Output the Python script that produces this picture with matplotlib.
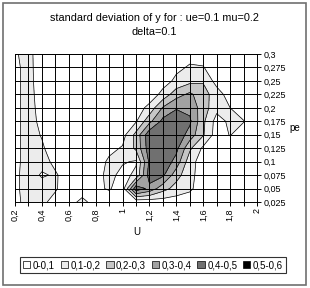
import numpy as np
import matplotlib
matplotlib.use("Agg")
import matplotlib.pyplot as plt
from matplotlib.patches import Patch, Rectangle

plt.rcParams['font.family'] = ['Liberation Sans', 'DejaVu Sans']

# grid of the surface: U along x, pe along y
u_vals = [0.2, 0.3, 0.4, 0.5, 0.6, 0.7, 0.8, 0.9, 1.0, 1.1,
          1.2, 1.3, 1.4, 1.5, 1.6, 1.7, 1.8, 1.9, 2.0]
pe_vals = [0.025, 0.05, 0.075, 0.1, 0.125, 0.15,
           0.175, 0.2, 0.225, 0.25, 0.275, 0.3]

# std of y, one row per pe value (bottom to top)
sd_025 = [0.07, 0.14, 0.12, 0.07, 0.07, 0.12, 0.07, 0.04, 0.03, 0.03, 0.04, 0.05, 0.05, 0.04, 0.03, 0.02, 0.02, 0.02, 0.02]
sd_050 = [0.08, 0.14, 0.14, 0.11, 0.05, 0.06, 0.08, 0.11, 0.05, 0.47, 0.37, 0.24, 0.16, 0.12, 0.04, 0.03, 0.02, 0.02, 0.02]
sd_075 = [0.08, 0.14, 0.09, 0.11, 0.06, 0.04, 0.06, 0.13, 0.07, 0.12, 0.45, 0.42, 0.24, 0.13, 0.05, 0.03, 0.02, 0.02, 0.02]
sd_100 = [0.08, 0.13, 0.13, 0.08, 0.04, 0.03, 0.04, 0.12, 0.11, 0.09, 0.42, 0.48, 0.36, 0.14, 0.05, 0.03, 0.03, 0.02, 0.02]
sd_125 = [0.08, 0.13, 0.11, 0.06, 0.03, 0.02, 0.03, 0.07, 0.11, 0.22, 0.46, 0.49, 0.43, 0.22, 0.08, 0.04, 0.05, 0.03, 0.02]
sd_150 = [0.08, 0.13, 0.095, 0.05, 0.03, 0.02, 0.02, 0.03, 0.06, 0.23, 0.47, 0.49, 0.47, 0.36, 0.21, 0.05, 0.105, 0.05, 0.02]
sd_175 = [0.08, 0.13, 0.08, 0.04, 0.02, 0.02, 0.02, 0.02, 0.03, 0.09, 0.27, 0.43, 0.47, 0.42, 0.22, 0.06, 0.12, 0.105, 0.02]
sd_200 = [0.08, 0.13, 0.07, 0.04, 0.02, 0.02, 0.02, 0.02, 0.02, 0.05, 0.13, 0.31, 0.39, 0.37, 0.25, 0.13, 0.10, 0.04, 0.02]
sd_225 = [0.08, 0.13, 0.06, 0.03, 0.02, 0.02, 0.02, 0.02, 0.02, 0.02, 0.04, 0.13, 0.26, 0.32, 0.24, 0.15, 0.05, 0.02, 0.02]
sd_250 = [0.08, 0.13, 0.05, 0.03, 0.02, 0.02, 0.02, 0.02, 0.02, 0.02, 0.02, 0.06, 0.12, 0.17, 0.19, 0.06, 0.02, 0.02, 0.02]
sd_275 = [0.08, 0.13, 0.045, 0.03, 0.02, 0.02, 0.02, 0.02, 0.02, 0.02, 0.02, 0.03, 0.08, 0.11, 0.105, 0.04, 0.02, 0.02, 0.02]
sd_300 = [0.09, 0.13, 0.04, 0.02, 0.02, 0.02, 0.02, 0.02, 0.02, 0.02, 0.02, 0.02, 0.04, 0.07, 0.06, 0.03, 0.02, 0.02, 0.02]

levels = [0, 0.1, 0.2, 0.3, 0.4, 0.5, 0.6]
band_labels = ['0-0,1', '0,1-0,2', '0,2-0,3', '0,3-0,4', '0,4-0,5', '0,5-0,6']
band_colors = ['#ffffff', '#ececec', '#c6c6c6', '#a2a2a2', '#707070', '#000000']

x_ticklabels = ['0,2', '', '0,4', '', '0,6', '', '0,8', '', '1', '',
                '1,2', '', '1,4', '', '1,6', '', '1,8', '', '2']
y_ticklabels = ['0,025', '0,05', '0,075', '0,1', '0,125', '0,15',
                '0,175', '0,2', '0,225', '0,25', '0,275', '0,3']

Z = np.array([sd_025, sd_050, sd_075, sd_100, sd_125, sd_150,
              sd_175, sd_200, sd_225, sd_250, sd_275, sd_300])
U, PE = np.meshgrid(u_vals, pe_vals)

fig = plt.figure(figsize=(3.1, 2.88), dpi=100)
ax = fig.add_axes([15 / 310, 1 - 202 / 288, 242 / 310, 148 / 288])

ax.contourf(U, PE, Z, levels=levels, colors=band_colors)
ax.contour(U, PE, Z, levels=levels[1:-1], colors='k', linewidths=0.5)

ax.set_xlim(0.2, 2.0)
ax.set_ylim(0.025, 0.3)
ax.set_xticks(u_vals)
ax.set_xticklabels(x_ticklabels, rotation=90)
ax.set_yticks(pe_vals)
ax.set_yticklabels(y_ticklabels)
ax.yaxis.tick_right()
ax.tick_params(direction='out', length=3, width=0.7, labelsize=6.5, pad=1.5)
ax.grid(True, color='k', linewidth=0.7)
ax.set_axisbelow(False)
for s in ax.spines.values():
    s.set_linewidth(0.7)

fig.text(0.497, 1 - 18 / 288, 'standard deviation of y for : ue=0.1 mu=0.2',
         ha='center', va='center', fontsize=7.8)
fig.text(0.497, 1 - 32 / 288, 'delta=0.1', ha='center', va='center', fontsize=7.8)
fig.text(137 / 310, 1 - 232 / 288, 'U', ha='center', va='center', fontsize=7)
fig.text(295 / 310, 1 - 128 / 288, 'pe', ha='center', va='center', fontsize=7)

handles = [Patch(facecolor=c, edgecolor='k', linewidth=0.5, label=l)
           for c, l in zip(band_colors, band_labels)]
leg = fig.legend(handles=handles, loc='center', bbox_to_anchor=(153 / 310, 1 - 265 / 288),
                 ncol=6, fontsize=7, frameon=True, fancybox=False, edgecolor='k',
                 handlelength=0.75, handleheight=0.75, handletextpad=0.25,
                 columnspacing=0.6, borderpad=0.3, borderaxespad=0)
leg.get_frame().set_linewidth(0.8)

fig.patches.append(Rectangle((3 / 310, 3 / 288), 303 / 310, 282 / 288,
                             transform=fig.transFigure, fill=False,
                             edgecolor='#707070', linewidth=1.2))

fig.savefig('out.png', dpi=100)
